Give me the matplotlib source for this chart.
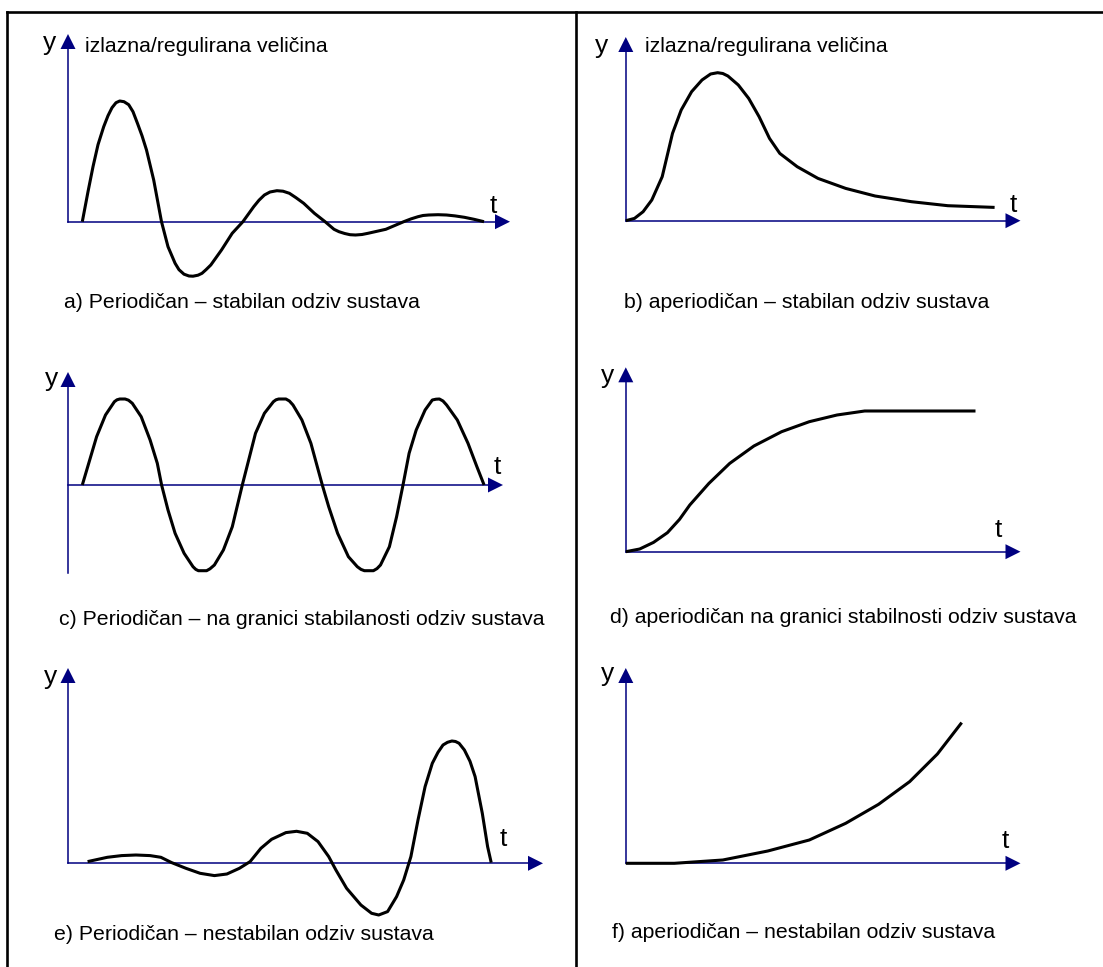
import matplotlib
matplotlib.use("Agg")
import matplotlib.pyplot as plt
from matplotlib.patches import Polygon

plt.rcParams['font.family'] = ['Liberation Sans', 'DejaVu Sans']

W, H, DPI = 1103, 967, 100
AXIS_COLOR = '#000080'
CURVE_COLOR = 'black'

# ---- response curves (t, y) measured from each panel's origin ----
# a) periodic, stable
a_t = [14.3, 20.0, 25.0, 30.0, 35.7, 40.0, 44.0, 48.0, 51.7, 56.0, 60.7, 65.0,
       69.6, 74.0, 78.5, 85.7, 93.5, 100.0, 107.1, 111.0, 116.0, 121.0, 125.0,
       130.0, 134.0, 138.0, 142.8, 153.5, 164.2, 174.9, 185.7, 191.0, 196.4,
       202.0, 208.9, 215.0, 221.4, 228.0, 235.7, 246.4, 257.1, 266.0, 271.0,
       276.7, 282.0, 287.5, 294.0, 300.0, 317.8, 335.7, 343.0, 350.0, 355.0,
       360.7, 370.0, 378.5, 387.0, 396.4, 406.0, 416.0]
a_y = [0.0, 30.0, 55.0, 77.0, 95.0, 106.0, 114.0, 119.0, 120.7, 120.0, 117.0, 110.0,
       98.0, 86.0, 71.7, 41.7, 0.0, -25.0, -41.6, -48.0, -52.5, -54.3, -54.5,
       -53.5, -51.6, -48.0, -43.3, -28.3, -11.6, 0.0, 15.0, 21.5, 26.7,
       29.7, 31.0, 30.5, 28.4, 24.0, 18.4, 8.4, 0.0, -7.6, -10.0,
       -11.8, -13.0, -13.3, -12.8, -11.6, -7.6, 0.0, 2.8, 5.0, 6.2,
       6.7, 7.0, 6.7, 5.8, 4.4, 2.4, 0.0]

# b) aperiodic, stable
b_t = [0.0, 8.7, 17.3, 26.0, 36.4, 46.7, 55.4, 65.8, 76.2, 84.8, 91.8, 97.0,
       102.1, 112.5, 122.9, 133.3, 143.7, 154.0, 171.4, 192.2, 219.9, 249.3,
       285.7, 322.0, 368.8]
b_y = [0.0, 2.3, 9.0, 20.7, 44.0, 87.3, 110.7, 129.0, 140.7, 146.7, 148.0, 147.2,
       144.7, 135.7, 122.3, 104.0, 82.3, 67.3, 54.0, 42.3, 32.3, 24.7,
       19.0, 15.0, 13.3]

# c) periodic, on the stability boundary
c_t = [14.3, 28.6, 37.5, 46.4, 49.0, 51.8, 57.1, 60.5, 64.3, 73.2, 82.1, 89.3,
       93.6, 100.0, 107.1, 116.1, 125.0, 127.8, 130.4, 138.6, 142.0, 146.4,
       155.4, 164.3, 174.3, 187.5, 196.4, 205.4, 208.0, 210.7, 217.9, 221.4,
       225.0, 233.9, 242.9, 254.3, 260.7, 269.6, 280.4, 289.3, 293.0, 296.4,
       305.4, 309.0, 312.5, 321.4, 328.6, 335.0, 341.1, 348.2, 357.1, 364.3,
       368.0, 371.4, 375.0, 378.6, 389.3, 400.0, 408.9, 416.1]
c_y = [0.0, 48.3, 70.0, 83.3, 85.2, 86.0, 86.0, 84.8, 81.7, 68.3, 45.0, 21.7,
       0.0, -25.0, -48.3, -68.3, -81.7, -84.4, -85.7, -85.7, -83.8, -80.0,
       -65.0, -41.7, 0.0, 51.7, 71.7, 83.3, 85.2, 86.0, 86.0, 84.0,
       80.0, 65.0, 41.7, 0.0, -21.7, -48.3, -71.7, -81.7, -84.4, -85.7,
       -85.7, -83.6, -80.0, -61.7, -31.7, 0.0, 31.7, 55.0, 75.0, 85.0,
       85.8, 86.0, 84.0, 80.0, 65.0, 41.7, 18.3, 0.0]

# d) aperiodic, on the stability boundary
d_t = [0.0, 13.9, 27.7, 41.6, 53.7, 64.0, 83.1, 103.9, 128.1, 155.8, 183.5,
       211.2, 238.9, 280.5, 349.7]
d_y = [0.0, 2.7, 9.3, 19.0, 32.3, 46.7, 68.3, 88.3, 105.7, 120.0, 130.0,
       136.7, 140.7, 140.7, 140.7]

# e) periodic, unstable
e_t = [19.6, 39.3, 53.6, 67.9, 82.1, 92.9, 103.6, 117.9, 132.1, 146.4, 158.9,
       171.4, 182.1, 192.9, 203.6, 217.9, 228.6, 239.3, 250.0, 260.7, 267.9,
       278.6, 292.9, 303.6, 310.7, 319.6, 328.6, 335.7, 342.9, 350.0, 357.1,
       364.3, 370.0, 375.0, 379.5, 383.9, 387.5, 391.1, 396.4, 402.0, 407.1,
       414.3, 419.6, 423.2]
e_y = [1.7, 6.0, 7.7, 8.3, 7.7, 6.0, 0.7, -5.0, -10.0, -12.3, -10.7,
       -5.0, 1.7, 15.0, 24.0, 30.7, 32.0, 30.0, 21.7, 6.7, -6.7,
       -25.0, -41.7, -50.0, -51.7, -48.3, -33.3, -16.7, 6.7, 43.3, 76.7,
       100.0, 111.0, 118.3, 121.0, 122.3, 121.8, 120.0, 113.3, 102.0, 86.7,
       50.0, 16.7, 0.7]

# f) aperiodic, unstable
f_t = [0.0, 48.5, 97.0, 142.0, 183.5, 219.9, 252.8, 283.9, 311.6, 335.9]
f_y = [0.0, 0.0, 3.3, 12.3, 23.3, 40.0, 59.0, 81.7, 109.3, 140.7]

captions = [
    'a) Periodičan – stabilan odziv sustava',
    'b) aperiodičan – stabilan odziv sustava',
    'c) Periodičan – na granici stabilanosti odziv sustava',
    'd) aperiodičan na granici stabilnosti odziv sustava',
    'e) Periodičan – nestabilan odziv sustava',
    'f) aperiodičan – nestabilan odziv sustava',
]
y_title = 'izlazna/regulirana veličina'

# ---- layout (figure pixels, measured from top-left) ----
panels = [
    dict(t=a_t, y=a_y, origin=(68, 221.7), x_tip=510, y_tip=34, y_low=221.7,
         ylab=(50, 50), tlab=(493.5, 213), cap=(64, 308), title=(85, 52)),
    dict(t=b_t, y=b_y, origin=(625.8, 220.7), x_tip=1020.5, y_tip=37, y_low=220.7,
         ylab=(602, 53), tlab=(1013, 212), cap=(624, 308), title=(645, 52)),
    dict(t=c_t, y=c_y, origin=(68, 485), x_tip=503, y_tip=372, y_low=572.7,
         ylab=(51.5, 386), tlab=(497, 474), cap=(59, 625), title=None),
    dict(t=d_t, y=d_y, origin=(625.8, 551.7), x_tip=1020.5, y_tip=367.3, y_low=551.7,
         ylab=(608, 383), tlab=(998, 537), cap=(610, 623), title=None),
    dict(t=e_t, y=e_y, origin=(68, 863.3), x_tip=543, y_tip=668, y_low=863.3,
         ylab=(51, 684), tlab=(503.5, 846), cap=(54, 940), title=None),
    dict(t=f_t, y=f_y, origin=(625.8, 863.3), x_tip=1020.5, y_tip=668, y_low=863.3,
         ylab=(608, 681), tlab=(1005, 848), cap=(612, 938), title=None),
]

HEAD_LEN, HEAD_HALF = 15, 7.5
AXIS_LW, CURVE_LW, FRAME_LW = 1.1, 2.2, 1.9
LABEL_FS, TEXT_FS = 19, 15.3

fig = plt.figure(figsize=(W / DPI, H / DPI), dpi=DPI)

# canvas axes in pixel coordinates for frame and text
canvas = fig.add_axes([0, 0, 1, 1])
canvas.set_xlim(0, W)
canvas.set_ylim(H, 0)
canvas.axis('off')

frame_top, frame_left, divider = 11.7, 7.2, 576
canvas.plot([frame_left, W], [frame_top, frame_top], color='black', lw=FRAME_LW,
            solid_capstyle='projecting')
canvas.plot([frame_left, frame_left], [frame_top, H], color='black', lw=FRAME_LW,
            solid_capstyle='projecting')
canvas.plot([divider, divider], [frame_top, H], color='black', lw=FRAME_LW,
            solid_capstyle='projecting')

for p, cap in zip(panels, captions):
    x0, y0 = p['origin']
    ax = fig.add_axes([0, 0, 1, 1])
    ax.set_xlim(-x0, W - x0)
    ax.set_ylim(y0 - H, y0)
    ax.axis('off')
    ax.patch.set_alpha(0)

    # coordinate axes with filled arrowheads
    xt = p['x_tip'] - x0
    yt = y0 - p['y_tip']
    yb = y0 - p['y_low']
    ax.plot([0, xt - HEAD_LEN + 1], [0, 0], color=AXIS_COLOR, lw=AXIS_LW)
    ax.plot([0, 0], [yb, yt - HEAD_LEN + 1], color=AXIS_COLOR, lw=AXIS_LW)
    ax.add_patch(Polygon([(xt, 0), (xt - HEAD_LEN, HEAD_HALF), (xt - HEAD_LEN, -HEAD_HALF)],
                         closed=True, color=AXIS_COLOR, lw=0))
    ax.add_patch(Polygon([(0, yt), (-HEAD_HALF, yt - HEAD_LEN), (HEAD_HALF, yt - HEAD_LEN)],
                         closed=True, color=AXIS_COLOR, lw=0))

    # response curve
    ax.plot(p['t'], p['y'], color=CURVE_COLOR, lw=CURVE_LW,
            solid_joinstyle='round', solid_capstyle='butt')

    # labels
    canvas.text(p['ylab'][0], p['ylab'][1], 'y', fontsize=LABEL_FS,
                ha='center', va='baseline')
    canvas.text(p['tlab'][0], p['tlab'][1], 't', fontsize=LABEL_FS,
                ha='center', va='baseline')
    if p['title']:
        canvas.text(p['title'][0], p['title'][1], y_title, fontsize=TEXT_FS,
                    ha='left', va='baseline')
    canvas.text(p['cap'][0], p['cap'][1], cap, fontsize=TEXT_FS,
                ha='left', va='baseline')

fig.savefig('out.png', dpi=DPI)
